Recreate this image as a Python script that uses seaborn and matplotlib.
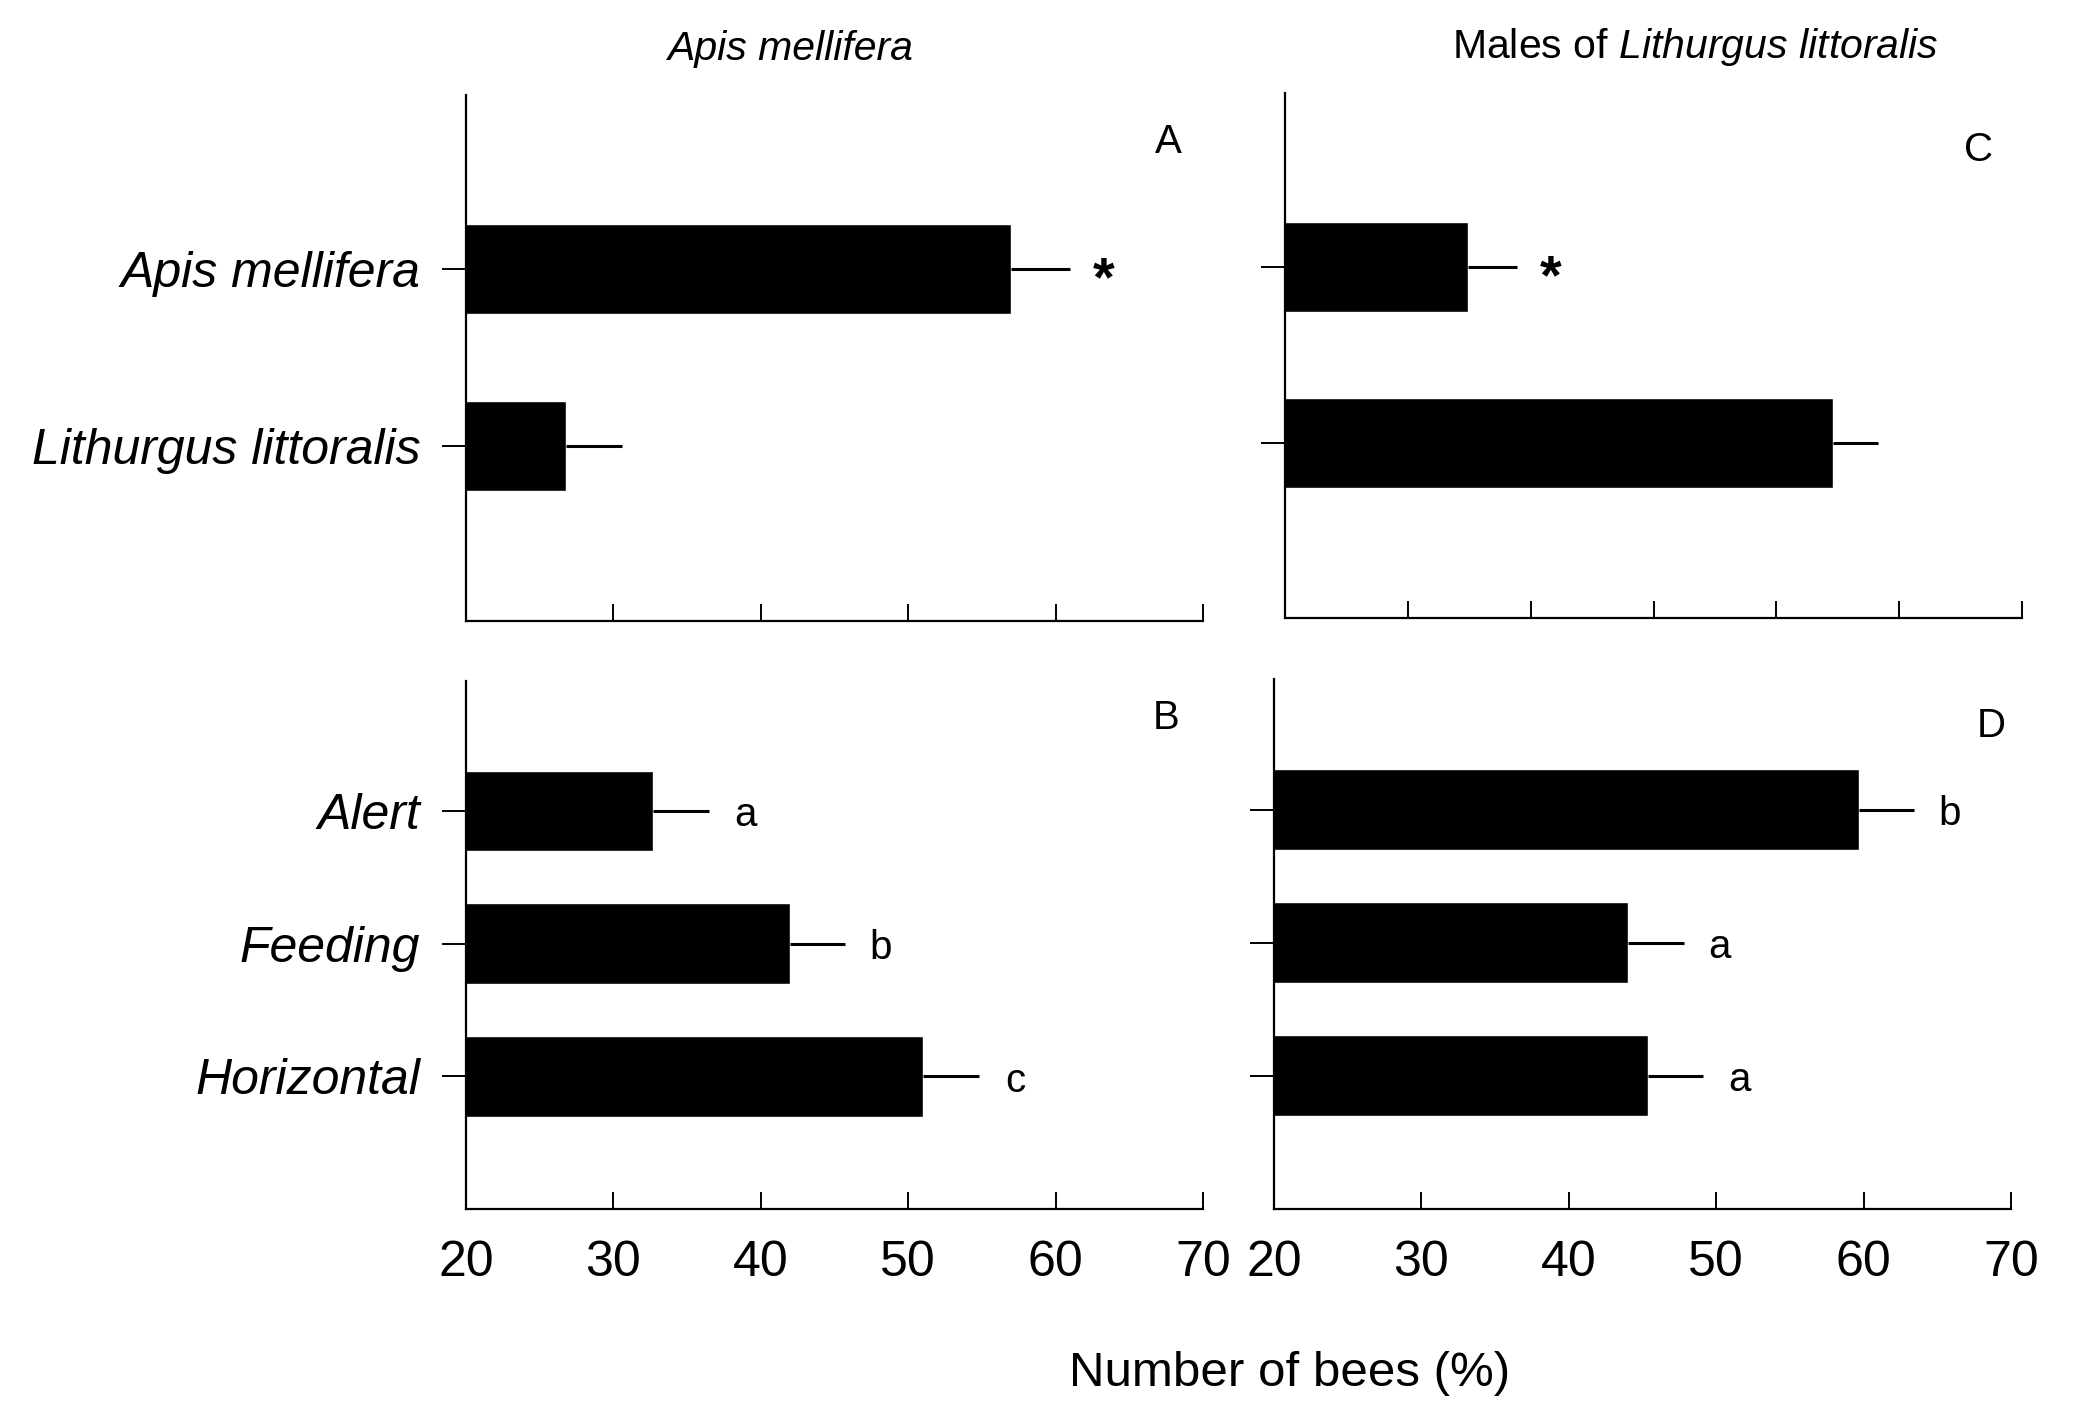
import matplotlib
matplotlib.use("Agg")
import matplotlib.pyplot as plt
import seaborn as sns
import pandas as pd
import numpy as np

# ---- data ----
choice_cats = ["Apis mellifera", "Lithurgus littoralis"]
behav_cats = ["Alert", "Feeding", "Horizontal"]

a_vals = [57.0, 26.8]
a_err = [4.0, 3.8]
a_marks = ["*", ""]

c_vals = [34.9, 64.6]
c_err = [4.0, 3.7]
c_marks = ["*", ""]

b_vals = [32.7, 42.0, 51.0]
b_err = [3.8, 3.7, 3.8]
b_marks = ["a", "b", "c"]

d_vals = [59.7, 44.0, 45.4]
d_err = [3.7, 3.8, 3.7]
d_marks = ["b", "a", "a"]

xticks_main = [20, 30, 40, 50, 60, 70]
xticks_c = [20, 30, 40, 50, 60, 70, 80]

sns.set_theme(style="white")
plt.rcParams["font.family"] = ["Liberation Sans", "DejaVu Sans"]
plt.rcParams["mathtext.fontset"] = "custom"
plt.rcParams["mathtext.rm"] = "Liberation Sans"
plt.rcParams["mathtext.it"] = "Liberation Sans:italic"

W, H = 2078, 1420
fig = plt.figure(figsize=(W / 100, H / 100), dpi=100)
fig.patch.set_facecolor("white")

def px_axes(l, t, r, b):
    return fig.add_axes([l / W, 1 - b / H, (r - l) / W, (b - t) / H])

axA = px_axes(466, 95, 1203, 621)
axC = px_axes(1285, 93, 2022, 618)
axB = px_axes(466, 681, 1203, 1209)
axD = px_axes(1274, 679, 2011, 1209)

def panel(ax, cats, vals, errs, marks, width, ylim, xlim, xticks, show_ylabels, show_xlabels):
    df = pd.DataFrame({"cat": cats, "val": vals})
    sns.barplot(data=df, y="cat", x="val", ax=ax, color="black", width=width,
                saturation=1, errorbar=None, orient="h")
    pos = np.arange(len(cats))
    ax.errorbar(vals, pos, xerr=[np.zeros(len(errs)), errs], fmt="none",
                ecolor="black", elinewidth=2.2, capsize=0)
    for i, (v, e, m) in enumerate(zip(vals, errs, marks)):
        if not m:
            continue
        if m == "*":
            ax.annotate(m, xy=(v + e, i), xytext=(24, -9), textcoords="offset points",
                        ha="center", va="center", fontsize=40, color="black",
                        fontweight="bold")
        else:
            ax.annotate(m, xy=(v + e, i), xytext=(26, -3), textcoords="offset points",
                        ha="center", va="center", fontsize=29, color="black")
    ax.set_xlim(*xlim)
    ax.set_ylim(*ylim)
    ax.set_xticks(xticks)
    ax.set_xlabel("")
    ax.set_ylabel("")
    for s in ["top", "right"]:
        ax.spines[s].set_visible(False)
    for s in ["left", "bottom"]:
        ax.spines[s].set_color("black")
        ax.spines[s].set_linewidth(1.6)
    ax.tick_params(axis="x", direction="in", length=12, width=1.4, colors="black",
                   labelsize=36, pad=22, bottom=True, labelbottom=show_xlabels)
    ax.tick_params(axis="y", direction="out", length=17, width=1.4, colors="black",
                   labelsize=36, pad=16, labelleft=show_ylabels, left=True)
    if show_ylabels:
        for lab in ax.get_yticklabels():
            lab.set_fontstyle("italic")
    ax.set_facecolor("white")

panel(axA, choice_cats, a_vals, a_err, a_marks, 0.51, (1.99, -0.985), (20, 70), xticks_main, True, False)
panel(axC, choice_cats, c_vals, c_err, c_marks, 0.51, (1.99, -0.985), (20, 80), xticks_c, False, False)
panel(axB, behav_cats, b_vals, b_err, b_marks, 0.61, (3.0, -0.98), (20, 70), xticks_main, True, True)
panel(axD, behav_cats, d_vals, d_err, d_marks, 0.61, (3.0, -0.98), (20, 70), xticks_main, False, True)

# panel letters
for txt, x, y in [("A", 1168, 142), ("C", 1979, 150), ("B", 1166, 718), ("D", 1991, 726)]:
    fig.text(x / W, 1 - y / H, txt, ha="center", va="center", fontsize=29, color="black")

# column titles
fig.text(790 / W, 1 - 49 / H, "Apis mellifera", ha="center", va="center",
         fontsize=29.5, fontstyle="italic", color="black")
fig.text(1695 / W, 1 - 47 / H, r"Males of $\mathit{Lithurgus\ littoralis}$", ha="center",
         va="center", fontsize=29.5, color="black")

# common x label
fig.text(1290 / W, 1 - 1373 / H, "Number of bees (%)", ha="center", va="center",
         fontsize=35.5, color="black")

fig.savefig("out.png", dpi=100, facecolor="white")
